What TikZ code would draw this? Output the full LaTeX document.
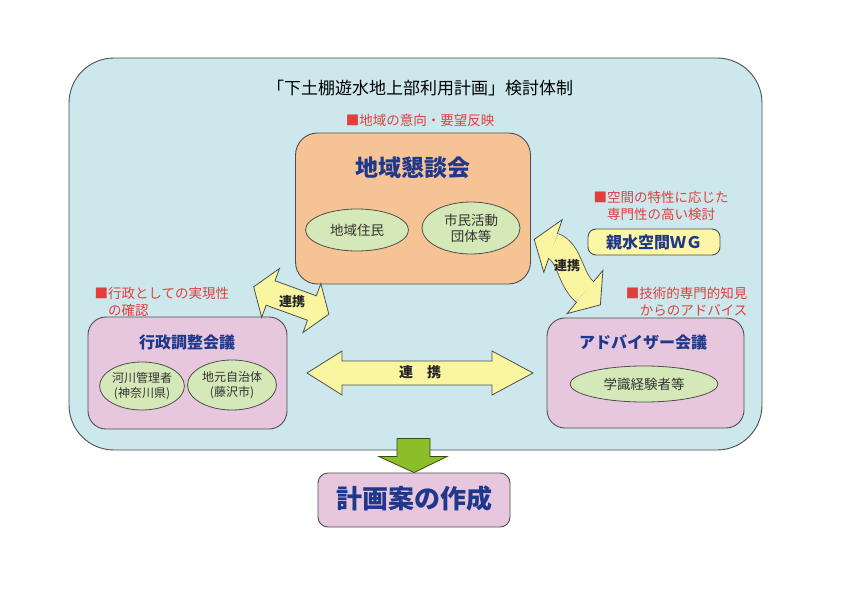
\documentclass[tikz,border=0pt]{standalone}
\usepackage{fontspec}
\setmainfont{Noto Sans CJK JP}
\usetikzlibrary{positioning, shapes.geometric, calc}
\definecolor{panelcyan}{RGB}{204,232,236}
\definecolor{kondanorange}{RGB}{246,196,148}
\definecolor{membergreen}{RGB}{212,232,184}
\definecolor{councilpink}{RGB}{231,199,222}
\definecolor{wgyellow}{RGB}{252,246,166}
\definecolor{arrowyellow}{RGB}{250,245,160}
\definecolor{kanjinavy}{RGB}{32,56,140}
\definecolor{notered}{RGB}{226,62,62}
\definecolor{linegray}{RGB}{78,78,78}
\definecolor{arrowgreen}{RGB}{140,190,42}
\tikzset{
  panel/.style={draw=linegray, line width=0.9pt},
  councilbox/.style={
    draw=linegray,
    line width=0.9pt,
    rounded corners=18pt
  },
  member/.style={
    ellipse,
    draw=linegray,
    line width=0.8pt,
    fill=membergreen,
    inner sep=0pt,
    align=center,
    text=black!80,
    font=\fontsize{13.5}{16}\selectfont
  },
  boxtitle/.style={
    text=kanjinavy,
    font=\bfseries\fontsize{16}{19}\selectfont
  },
  note/.style={
    text=notered,
    font=\fontsize{13.5}{17}\selectfont
  },
  renkei/.style={
    draw=linegray,
    line width=0.8pt,
    fill=arrowyellow,
    line join=miter
  },
  renkeitext/.style={
    text=black!85,
    font=\bfseries\fontsize{13}{15}\selectfont
  }
}

\begin{document}
\begin{tikzpicture}[x=1pt, y=-1pt]
  \useasboundingbox (0,0) rectangle (858,607);
  \fill[white] (0,0) rectangle (858,607);

  % frame
  \node[panel, fill=panelcyan, rounded corners=45pt,
        minimum width=693pt, minimum height=392pt] (frame) at (415.5,254) {};
  \node[font=\fontsize{17}{20}\selectfont] (title) at (420,88)
        {「下土棚遊水地上部利用計画」検討体制};
  \node[note] (kondannote) at (420,120) {■地域の意向・要望反映};

  % councils
  \node[councilbox, fill=kondanorange, rounded corners=22pt,
        minimum width=235pt, minimum height=151pt] (kondan) at (413,208.5) {};
  \node[boxtitle, font=\bfseries\fontsize{23}{26}\selectfont] (kondantitle) at (413,168) {地域懇談会};
  \node[member, minimum width=103pt, minimum height=42pt] (jumin) at (357,230) {地域住民};
  \node[member, minimum width=98pt, minimum height=52pt] (dantai) at (471,228) {市民活動\\団体等};

  \node[councilbox, fill=councilpink,
        minimum width=199pt, minimum height=112pt] (gyosei) at (187.5,373) {};
  \node[boxtitle] (gyoseititle) at (187,342) {行政調整会議};
  \node[member, font=\fontsize{12}{15}\selectfont,
        minimum width=81pt, minimum height=48pt] (kasen) at (142,386) {河川管理者\\(神奈川県)};
  \node[member, font=\fontsize{12}{15}\selectfont,
        minimum width=89pt, minimum height=50pt] (jimoto) at (232,385) {地元自治体\\(藤沢市)};
  \node[note, anchor=west, align=left] (gyoseinote) at (91,301.5)
        {■行政としての実現性\\\hspace*{1em}の確認};

  \node[councilbox, fill=councilpink,
        minimum width=197pt, minimum height=110pt] (adviser) at (645.5,373) {};
  \node[boxtitle] (advisertitle) at (643,342) {アドバイザー会議};
  \node[member, minimum width=148pt, minimum height=36pt] (gakushiki) at (644,384) {学識経験者等};
  \node[note, anchor=east, align=right] (advisernote) at (751,302)
        {■技術的専門的知見\\からのアドバイス};

  \node[note, align=center] (wgnote) at (661,205.5) {■空間の特性に応じた\\専門性の高い検討};
  \node[draw=linegray, line width=0.9pt, fill=wgyellow, rounded corners=8pt,
        minimum width=132pt, minimum height=26pt, boxtitle] (wg) at (654,242) {親水空間ＷＧ};

  % result
  \node[councilbox, fill=councilpink, rounded corners=10pt,
        minimum width=192pt, minimum height=54pt] (plan) at (414,500) {};
  \node[boxtitle, font=\bfseries\fontsize{26}{30}\selectfont] (plantitle) at (414,499) {計画案の作成};

  % links
  \begin{scope}[shift={($(gyosei.east)!0.5!(adviser.west)$)}]
    \filldraw[renkei] (-110,0) -- (-75,-22) -- (-75,-12) -- (75,-12) -- (75,-22)
      -- (116,0) -- (75,22) -- (75,12) -- (-75,12) -- (-75,22) -- cycle;
  \end{scope}
  \node[renkeitext, font=\bfseries\fontsize{14}{16}\selectfont] (renkeiH) at (420,372) {連\hspace{1em}携};

  \begin{scope}[shift={($(gyosei.north east)!0.5!(kondan.south west)$)}, rotate=-20]
    \filldraw[renkei] (-40,0) -- (-22,-26) -- (-22,-13) -- (22,-13) -- (22,-26)
      -- (40,0) -- (22,26) -- (22,13) -- (-22,13) -- (-22,26) -- cycle;
  \end{scope}
  \node[renkeitext] (renkeiL) at (292,302) {連携};

  \draw[linegray, line width=0.8pt, double=arrowyellow, double distance=26pt]
    (553,246) .. controls (570,252) and (569.6,279.2) .. (585,292);
  \filldraw[renkei] (548.7,258.2) -- (543.8,272.3) -- (534.2,239.4) -- (562.2,219.7) -- (557.3,233.8);
  \filldraw[renkei] (576.7,302.0) -- (567.1,313.6) -- (600.4,304.8) -- (602.9,270.4) -- (593.3,282.0);
  \node[renkeitext] (renkeiR) at (567,266) {連携};

  \begin{scope}[shift={(plan.north)}]
    \filldraw[draw=black!60!arrowgreen, line width=0.8pt, fill=arrowgreen]
      (-17,-34) -- (16,-34) -- (16,-16) -- (33,-16) -- (0,0) -- (-35,-16) -- (-17,-16) -- cycle;
  \end{scope}
\end{tikzpicture}
\end{document}
